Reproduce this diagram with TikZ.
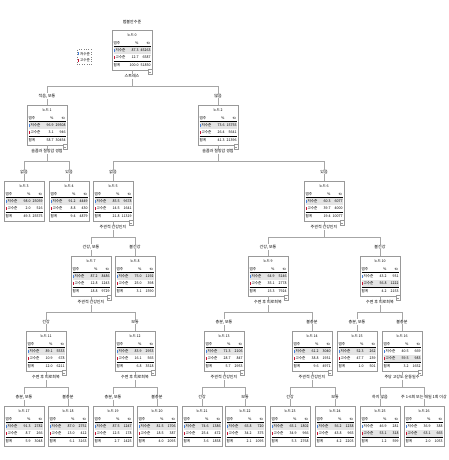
\documentclass[tikz,border=0pt]{standalone}
\usepackage{fontspec}
\setmainfont{Noto Sans CJK KR}
\usepackage{array,colortbl}
\definecolor{lowc}{RGB}{70,130,220}
\definecolor{highc}{RGB}{200,20,50}
\definecolor{shade}{RGB}{228,228,228}
% small colour key in front of a category
\newcommand{\sq}[1]{\textcolor{#1}{\rule{1.3pt}{2.6pt}}\hspace{0.8pt}}
% node table: number, low %, low n, high %, high n, total %, total n, low row, high row
\newcommand{\ntab}[9]{%
\setlength{\tabcolsep}{0pt}%
\begin{tabular}{>{\raggedright\arraybackslash}p{15pt}>{\raggedleft\arraybackslash}p{10pt}>{\raggedleft\arraybackslash}p{12pt}}
\multicolumn{3}{c}{노드 #1}\\
범주 & \% & $n$\\ \hline
\rowcolor{#8}\sq{lowc}저수준 & #2 & #3\\
\rowcolor{#9}\sq{highc}고수준 & #4 & #5\\ \hline
합계 & #6 & #7
\end{tabular}}
\begin{document}
\begin{tikzpicture}[x=1pt,y=-1pt,
  box/.style={draw=gray!80,fill=white,anchor=north,inner xsep=1.5pt,inner ysep=1pt,minimum width=40pt,minimum height=40pt,font=\fontsize{3.6}{7.2}\selectfont},
  split/.style={fill=white,inner sep=0.6pt,font=\fontsize{4}{4.5}\selectfont},
  cat/.style={fill=white,inner sep=0.6pt,font=\fontsize{4}{4.5}\selectfont},
  conn/.style={draw=gray!70,line width=0.5pt},
  fold/.style={draw=gray!80,line width=0.3pt,fill=white}]
\useasboundingbox (0,0) rectangle (448,460);
\node[split] (ttl) at (132,22) {범불안수준};
\node[draw=gray,dotted,inner sep=1pt,font=\fontsize{3.6}{6.5}\selectfont] (lg) at (84,57) {\begin{tabular}{@{}l@{}}\sq{lowc}저수준\\ \sq{highc}고수준\end{tabular}};
% tree nodes
\node[box] (n0) at (132,30) {\ntab{0}{87.3}{45263}{12.7}{6587}{100.0}{51850}{shade}{white}};
\node[box] (n1) at (47,105) {\ntab{1}{96.9}{29508}{3.1}{946}{58.7}{30454}{shade}{white}};
\node[box] (n2) at (218,105) {\ntab{2}{73.6}{15755}{26.4}{5641}{41.3}{21396}{shade}{white}};
\node[box] (n3) at (24,181) {\ntab{3}{98.0}{25059}{2.0}{516}{49.3}{25575}{shade}{white}};
\node[box] (n4) at (69,181) {\ntab{4}{91.2}{4449}{8.8}{430}{9.4}{4879}{shade}{white}};
\node[box] (n5) at (113,181) {\ntab{5}{85.5}{9678}{14.5}{1641}{21.8}{11319}{shade}{white}};
\node[box] (n6) at (324,181) {\ntab{6}{60.3}{6077}{39.7}{4000}{19.4}{10077}{shade}{white}};
\node[box] (n7) at (91,256) {\ntab{7}{87.2}{8486}{12.8}{1243}{18.8}{9729}{shade}{white}};
\node[box] (n8) at (135,256) {\ntab{8}{75.0}{1192}{25.0}{398}{3.1}{1590}{shade}{white}};
\node[box] (n9) at (268,256) {\ntab{9}{64.9}{5146}{35.1}{2778}{15.3}{7924}{shade}{white}};
\node[box] (n10) at (380,256) {\ntab{10}{43.2}{931}{56.8}{1222}{4.2}{2153}{white}{shade}};
\node[box] (n11) at (46,331) {\ntab{11}{89.1}{5533}{10.9}{678}{12.0}{6211}{shade}{white}};
\node[box] (n12) at (135,331) {\ntab{12}{83.9}{2953}{16.1}{565}{6.8}{3518}{shade}{white}};
\node[box] (n13) at (224,331) {\ntab{13}{71.3}{2106}{28.7}{847}{5.7}{2953}{shade}{white}};
\node[box] (n14) at (312,331) {\ntab{14}{61.2}{3040}{38.8}{1931}{9.6}{4971}{shade}{white}};
\node[box] (n15) at (357,331) {\ntab{15}{52.3}{262}{47.7}{239}{1.0}{501}{shade}{white}};
\node[box] (n16) at (402,331) {\ntab{16}{40.5}{669}{59.5}{983}{3.2}{1652}{white}{shade}};
\node[box] (n17) at (24,406) {\ntab{17}{91.3}{2782}{8.7}{266}{5.9}{3048}{shade}{white}};
\node[box] (n18) at (68,406) {\ntab{18}{87.0}{2751}{13.0}{412}{6.1}{3163}{shade}{white}};
\node[box] (n19) at (113,406) {\ntab{19}{87.5}{1247}{12.5}{178}{2.7}{1425}{shade}{white}};
\node[box] (n20) at (157,406) {\ntab{20}{81.5}{1706}{18.5}{387}{4.0}{2093}{shade}{white}};
\node[box] (n21) at (202,406) {\ntab{21}{74.6}{1386}{25.4}{472}{3.6}{1858}{shade}{white}};
\node[box] (n22) at (245,406) {\ntab{22}{65.8}{720}{34.2}{375}{2.1}{1095}{shade}{white}};
\node[box] (n23) at (290,406) {\ntab{23}{65.1}{1802}{34.9}{966}{5.3}{2768}{shade}{white}};
\node[box] (n24) at (335,406) {\ntab{24}{56.2}{1238}{43.8}{965}{4.2}{2203}{shade}{white}};
\node[box] (n25) at (380,406) {\ntab{25}{46.9}{281}{53.1}{318}{1.2}{599}{white}{shade}};
\node[box] (n26) at (424,406) {\ntab{26}{36.9}{388}{63.1}{665}{2.0}{1053}{white}{shade}};
% branches
\foreach \p/\a/\b in {n0/n1/n2,n1/n3/n4,n2/n5/n6,n5/n7/n8,n6/n9/n10,n7/n11/n12,n9/n13/n14,n10/n15/n16,n11/n17/n18,n12/n19/n20,n13/n21/n22,n14/n23/n24,n16/n25/n26}{
  \draw[conn] (\p.south) -- ++(0,16) -| (\a.north);
  \draw[conn] (\p.south) -- ++(0,16) -| (\b.north);
  \draw[fold] ([yshift=1pt]\p.south east) rectangle ++(-4.5,4.5);
  \draw[fold] ([xshift=-3.6pt,yshift=-1.25pt]\p.south east) -- ++(2.7,0);
}
% split variables
\node[split] (s0) at ([yshift=-6pt]n0.south) {스트레스};
\node[split] (s1) at ([yshift=-6pt]n1.south) {슬픔과 절망감 경험};
\node[split] (s2) at ([yshift=-6pt]n2.south) {슬픔과 절망감 경험};
\node[split] (s5) at ([yshift=-6pt]n5.south) {주관적 건강인지};
\node[split] (s6) at ([yshift=-6pt]n6.south) {주관적 건강인지};
\node[split] (s7) at ([yshift=-6pt]n7.south) {주관적 건강인지};
\node[split] (s9) at ([yshift=-6pt]n9.south) {수면 후 피로회복};
\node[split] (s10) at ([yshift=-6pt]n10.south) {수면 후 피로회복};
\node[split] (s11) at ([yshift=-6pt]n11.south) {수면 후 피로회복};
\node[split] (s12) at ([yshift=-6pt]n12.south) {수면 후 피로회복};
\node[split] (s13) at ([yshift=-6pt]n13.south) {주관적 건강인지};
\node[split] (s14) at ([yshift=-6pt]n14.south) {주관적 건강인지};
\node[split] (s16) at ([yshift=-6pt]n16.south) {주당 고강도 운동일수};
% categories
\node[cat] (c1) at ([yshift=9pt]n1.north) {적음, 보통};
\node[cat] (c2) at ([yshift=9pt]n2.north) {많음};
\node[cat] (c3) at ([yshift=9pt]n3.north) {없음};
\node[cat] (c4) at ([yshift=9pt]n4.north) {있음};
\node[cat] (c5) at ([yshift=9pt]n5.north) {없음};
\node[cat] (c6) at ([yshift=9pt]n6.north) {있음};
\node[cat] (c7) at ([yshift=9pt]n7.north) {건강, 보통};
\node[cat] (c8) at ([yshift=9pt]n8.north) {불건강};
\node[cat] (c9) at ([yshift=9pt]n9.north) {건강, 보통};
\node[cat] (c10) at ([yshift=9pt]n10.north) {불건강};
\node[cat] (c11) at ([yshift=9pt]n11.north) {건강};
\node[cat] (c12) at ([yshift=9pt]n12.north) {보통};
\node[cat] (c13) at ([yshift=9pt]n13.north) {충분, 보통};
\node[cat] (c14) at ([yshift=9pt]n14.north) {불충분};
\node[cat] (c15) at ([yshift=9pt]n15.north) {충분, 보통};
\node[cat] (c16) at ([yshift=9pt]n16.north) {불충분};
\node[cat] (c17) at ([yshift=9pt]n17.north) {충분, 보통};
\node[cat] (c18) at ([yshift=9pt]n18.north) {불충분};
\node[cat] (c19) at ([yshift=9pt]n19.north) {충분, 보통};
\node[cat] (c20) at ([yshift=9pt]n20.north) {불충분};
\node[cat] (c21) at ([yshift=9pt]n21.north) {건강};
\node[cat] (c22) at ([yshift=9pt]n22.north) {보통};
\node[cat] (c23) at ([yshift=9pt]n23.north) {건강};
\node[cat] (c24) at ([yshift=9pt]n24.north) {보통};
\node[cat] (c25) at ([yshift=9pt]n25.north) {하지 않음};
\node[cat] (c26) at ([yshift=9pt]n26.north) {주 1-6회 또는 매일 1회 이상};
\end{tikzpicture}
\end{document}
